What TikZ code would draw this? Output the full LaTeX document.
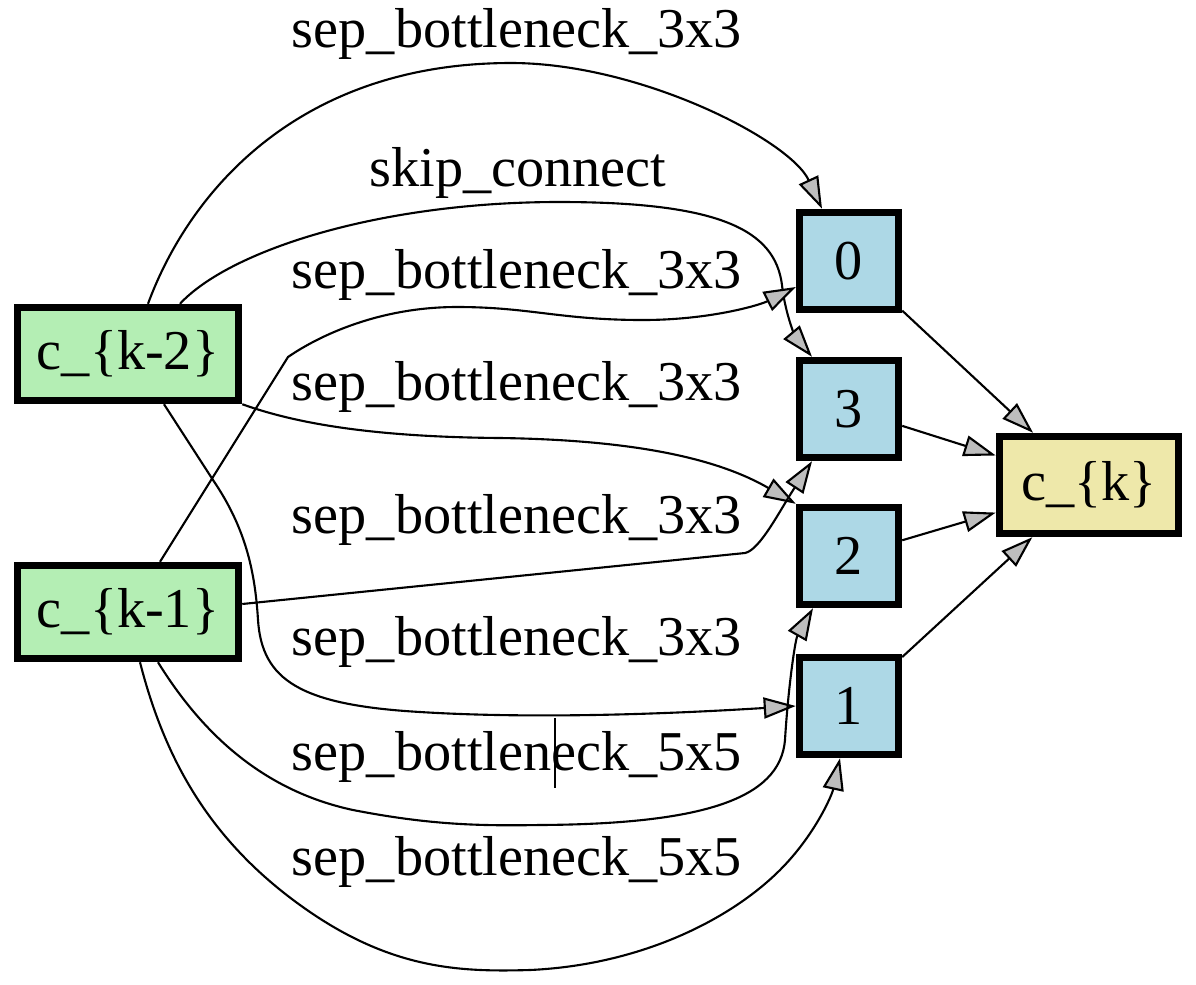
\documentclass[tikz,border=0pt]{standalone}
\usepackage{fontspec}
\setmainfont{Liberation Serif}
\usetikzlibrary{arrows.meta,calc}
\definecolor{cellgreen}{RGB}{180,238,180}
\definecolor{nodeblue}{RGB}{173,216,230}
\definecolor{outyellow}{RGB}{238,232,170}
\definecolor{arrowgray}{RGB}{190,190,190}

\begin{document}
\begin{tikzpicture}[
        x=0.01cm, y=-0.01cm,
        cell/.style={draw=black, line width=2.1pt, inner sep=0pt, font=\fontsize{16}{19}\selectfont, minimum height=0.93cm},
        inCell/.style={cell, fill=cellgreen, minimum width=2.21cm},
        midNode/.style={cell, fill=nodeblue, minimum width=0.99cm, minimum height=0.97cm},
        outCell/.style={cell, fill=outyellow, minimum width=1.79cm, minimum height=0.97cm},
        op/.style={-{Triangle[length=3.2mm, width=2.1mm, fill=arrowgray]}, line width=0.6pt, draw=black},
        opLabel/.style={anchor=base, inner sep=0pt, font=\fontsize{16}{19}\selectfont}
      ]
      \useasboundingbox (0,0) rectangle (1196,984);

      \node[inCell] (ckm2) at (128,354) {c\_\{k-2\}};
      \node[inCell] (ckm1) at (128,612) {c\_\{k-1\}};

      \node[midNode] (n0) at (849,261) {0};
      \node[midNode] (n3) at (849,409) {3};
      \node[midNode] (n2) at (849,556) {2};
      \node[midNode] (n1) at (849,706) {1};

      \node[outCell] (ck) at (1089,485) {c\_\{k\}};

      \node[opLabel] (op20) at (517,47) {sep\_bottleneck\_3x3};
      \node[opLabel] (op23) at (518,186) {skip\_connect};
      \node[opLabel] (op10) at (517,288) {sep\_bottleneck\_3x3};
      \node[opLabel] (op22) at (517,400) {sep\_bottleneck\_3x3};
      \node[opLabel] (op13) at (517,533) {sep\_bottleneck\_3x3};
      \node[opLabel] (op21) at (517,655) {sep\_bottleneck\_3x3};
      \node[opLabel] (op12) at (517,770) {sep\_bottleneck\_5x5};
      \node[opLabel] (op11) at (517,875) {sep\_bottleneck\_5x5};

      \draw[op] ($(ckm2.north)+(20,0)$) .. controls (190,190) and (300,63) .. (511,63)
        .. controls (640,63) and (790,140) .. ($(n0.north)+(-27,0)$);
      \draw[op] ($(ckm2.north)+(52,0)$) .. controls (230,250) and (380,202) .. (559,202)
        .. controls (720,202) and (775,230) .. (782,285)
        .. controls (786,320) and (798,340) .. ($(n3.north)+(-37,0)$);
      \draw[op] ($(ckm1.north)+(32,0)$) -- (288,357) .. controls (320,335) and (380,307) .. (457,307)
        .. controls (530,307) and (560,320) .. (643,320)
        .. controls (710,320) and (760,305) .. ($(n0.west)+(0,26)$);
      \draw[op] (ckm2.south east) .. controls (300,425) and (380,437) .. (500,438)
        .. controls (640,440) and (720,460) .. (n2.north west);
      \draw[op] ($(ckm1.east)+(0,-8)$) -- (745,553) .. controls (760,550) and (780,510) .. ($(n3.south)+(-37,0)$);
      \draw[op] ($(ckm2.south)+(36,0)$) -- (213,480) .. controls (245,527) and (255,570) .. (258,620)
        .. controls (262,680) and (300,705) .. (420,712)
        .. controls (550,720) and (700,712) .. (n1.west);
      \draw[op] ($(ckm1.south)+(30,0)$) .. controls (200,730) and (260,790) .. (353,810)
        .. controls (430,825) and (480,826) .. (540,825)
        .. controls (700,824) and (780,800) .. (785,740)
        .. controls (788,690) and (795,640) .. ($(n2.south)+(-36,0)$);
      \draw[op] ($(ckm1.south)+(12,0)$) .. controls (165,760) and (210,840) .. (300,905)
        .. controls (390,970) and (460,972) .. (530,970)
        .. controls (640,965) and (730,920) .. (780,870)
        .. controls (815,835) and (832,795) .. ($(n1.south)+(-9,0)$);

      \draw[op] (n0) -- (ck);
      \draw[op] (n3) -- (ck);
      \draw[op] (n2) -- (ck);
      \draw[op] (n1) -- (ck);

      \draw[line width=0.4pt] (555,718) -- (555,788);
    \end{tikzpicture}
\end{document}
